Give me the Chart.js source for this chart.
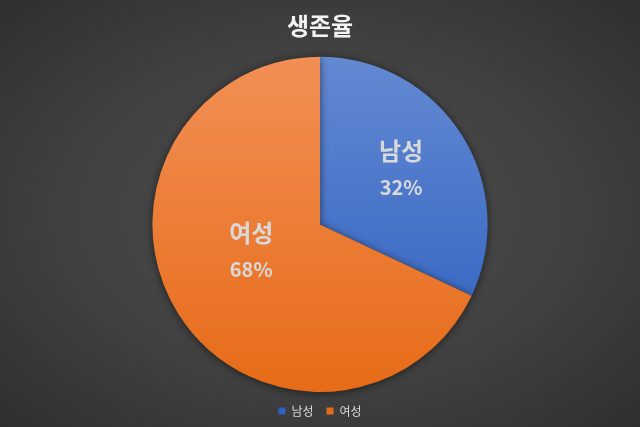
<!DOCTYPE html>
<html>
<head>
<meta charset="utf-8">
<script src="https://cdn.jsdelivr.net/npm/chart.js@4/dist/chart.umd.min.js"></script>
<style>
  html, body { margin: 0; padding: 0; }
  body {
    width: 640px; height: 427px; overflow: hidden;
    background: radial-gradient(ellipse at center, #4e4e4e 0%, #414141 55%, #2f2f2f 100%);
  }
  #wrap { width: 640px; height: 427px; }
</style>
</head>
<body>
<div id="wrap"><canvas id="survivalChart"></canvas></div>
<script>
const categories = ["남성", "여성"];
const survivalShare = [32, 68];
const chartTitle = "생존율";

const textColor = "#d9d9d9";
const fontFamily = "'Noto Sans CJK KR', 'Noto Sans', sans-serif";

// vertical gradient over the whole pie, like the Excel fill
function sliceGradient(chart, top, bottom) {
  const area = chart.chartArea;
  if (!area) return top;
  const g = chart.ctx.createLinearGradient(0, area.top, 0, area.bottom);
  g.addColorStop(0, top);
  g.addColorStop(1, bottom);
  return g;
}

const pieShadow = {
  id: "pieShadow",
  beforeDatasetsDraw(chart) {
    const ctx = chart.ctx;
    ctx.save();
    ctx.shadowColor = "rgba(0,0,0,0.55)";
    ctx.shadowBlur = 8;
    ctx.shadowOffsetY = 1;
  },
  afterDatasetsDraw(chart) {
    chart.ctx.restore();
  },
};

// labels inside the slices, placed from the arc geometry
const sliceLabels = {
  id: "sliceLabels",
  afterDatasetsDraw(chart) {
    const ctx = chart.ctx;
    const meta = chart.getDatasetMeta(0);
    const total = survivalShare.reduce((a, b) => a + b, 0);
    const nudges = [
      { f: 0.58, dx: -1, dy: -3 },
      { f: 0.5, dx: 2, dy: -18 },
    ];
    meta.data.forEach((arc, i) => {
      const mid = (arc.startAngle + arc.endAngle) / 2;
      const r = arc.outerRadius * nudges[i].f;
      const x = arc.x + Math.cos(mid) * r + nudges[i].dx;
      const y = arc.y + Math.sin(mid) * r + nudges[i].dy;
      ctx.save();
      ctx.fillStyle = textColor;
      ctx.textAlign = "center";
      ctx.textBaseline = "middle";
      ctx.font = "bold 24px " + fontFamily;
      ctx.fillText(categories[i], x, y - 18);
      ctx.font = "bold 20px " + fontFamily;
      const pct = Math.round((survivalShare[i] / total) * 100) + "%";
      ctx.fillText(pct, x, y + 18);
      ctx.restore();
    });
  },
};

const ctx = document.getElementById("survivalChart").getContext("2d");
new Chart(ctx, {
  type: "pie",
  data: {
    labels: categories,
    datasets: [
      {
        data: survivalShare,
        backgroundColor: (c) =>
          c.dataIndex === 0
            ? sliceGradient(c.chart, "#6389d2", "#2c5fc0")
            : sliceGradient(c.chart, "#f28f55", "#e66b17"),
        borderWidth: 0,
      },
    ],
  },
  options: {
    responsive: true,
    maintainAspectRatio: false,
    animation: false,
    layout: { padding: 0 },
    plugins: {
      title: {
        display: true,
        text: chartTitle,
        color: "#f2f2f2",
        font: { family: fontFamily, size: 24, weight: "bold" },
        padding: { top: 11, bottom: 17 },
      },
      legend: {
        position: "bottom",
        labels: {
          color: textColor,
          font: { family: fontFamily, size: 12 },
          boxWidth: 7,
          boxHeight: 7,
          padding: 13,
        },
      },
      tooltip: { enabled: false },
    },
  },
  plugins: [pieShadow, sliceLabels],
});
</script>
</body>
</html>
